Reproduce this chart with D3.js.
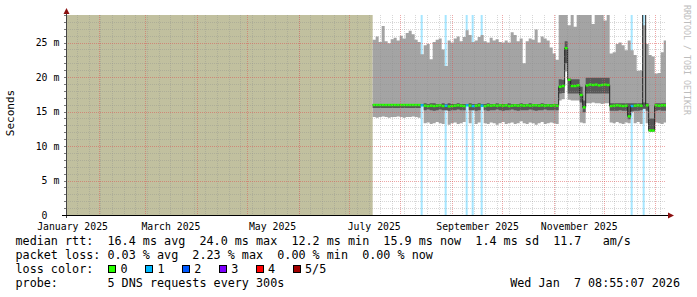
<!DOCTYPE html>
<html>
<head>
<meta charset="utf-8">
<script src="https://cdn.jsdelivr.net/npm/d3@7"></script>
<style>
body { margin: 0; background: #fff; }
text { font-family: "DejaVu Sans Mono", monospace; white-space: pre; }
</style>
</head>
<body>
<div id="chart"></div>
<script>
// smokeping rtt graph, last 360 days
// values are in ms, one sample every 43.2 h (3 px of the graph)

var endTime = new Date(2026, 0, 7, 8, 55, 7);
var spanDays = 360;
var noDataUntil = new Date(2025, 6, 15, 9, 0);
var stepHours = 43.2;

// top of the light smoke (slowest ping)
var smokeMax = [
  25.4, 25.9, 25.1, 27.4, 25.2, 24.9, 25.5, 25.7, 25.3, 26.0,
  25.6, 26.4, 26.7, 26.2, 25.4, 25.1, 23.3, 24.6, 24.8, 22.6,
  25.1, 25.4, 25.6, 24.0, 21.6, 25.3, 25.0, 25.6, 25.9, 25.2,
  25.8, 26.8, 26.1, 25.1, 25.3, 25.8, 26.1, 25.2, 25.0, 25.7,
  25.3, 25.5, 25.1, 25.0, 25.3, 25.0, 26.5, 26.1, 25.2, 25.6,
  22.0, 25.2, 25.6, 25.4, 26.9, 25.0, 25.9, 25.6, 25.3, 24.3,
  23.4, 22.5, 35, 35, 35, 27.5, 35, 27.3, 35, 35,
  35, 35, 35, 27.7, 35, 35, 35, 28.2, 35, 23.4,
  23.6, 24.8, 25.0, 24.6, 23.9, 25.3, 23.9, 23.2, 20.9, 21.0,
  27.5, 24.8, 23.2, 23.0, 20.5, 20.6, 23.6, 25.3
];
// top of the dark smoke
var smokeHigh = [
  16.1, 16.1, 16.1, 16.1, 16.1, 16.1, 16.1, 16.1, 16.1, 16.1,
  16.1, 16.1, 16.1, 16.1, 16.1, 16.1, 16.1, 16.2, 16.1, 16.2,
  16.2, 16.1, 16.1, 16.2, 16.1, 16.2, 16.1, 16.1, 16.2, 16.1,
  16.1, 16.1, 16.2, 16.1, 16.1, 16.2, 16.1, 16.1, 16.2, 16.1,
  16.1, 16.2, 16.1, 16.1, 16.1, 16.2, 16.1, 16.1, 16.1, 16.2,
  16.1, 16.1, 16.2, 16.1, 16.1, 16.1, 16.2, 16.1, 16.1, 16.1,
  16.1, 16.1, 19.7, 19.6, 25.2, 19.8, 19.7, 19.7, 19.7, 18.6,
  16.6, 19.9, 19.9, 19.9, 19.9, 19.9, 19.9, 19.9, 19.9, 16.2,
  16.2, 16.2, 16.2, 16.2, 16.2, 16.2, 16.2, 16.2, 16.2, 16.2,
  16.3, 16.2, 14.0, 14.0, 16.2, 16.2, 16.2, 16.2
];
var medianRtt = [
  15.95, 15.95, 15.95, 15.95, 15.95, 15.95, 15.95, 15.95, 15.95, 15.95,
  15.95, 15.95, 15.95, 15.95, 15.95, 15.95, 15.9, 15.85, 15.8, 15.85,
  15.8, 15.85, 15.9, 15.8, 15.85, 15.75, 15.8, 15.85, 15.9, 15.85,
  15.8, 15.9, 15.85, 15.8, 15.85, 15.9, 15.85, 15.8, 15.9, 15.85,
  15.9, 15.85, 15.9, 15.85, 15.9, 15.8, 15.85, 15.9, 15.85, 15.9,
  15.85, 15.9, 15.85, 15.9, 15.9, 15.85, 15.9, 15.85, 15.9, 15.85,
  15.9, 15.85, 18.6, 18.7, 24.2, 19.6, 18.7, 18.7, 18.8, 17.4,
  15.6, 18.8, 18.9, 18.85, 18.9, 18.8, 18.85, 18.9, 18.85, 15.8,
  15.85, 15.9, 15.85, 15.8, 15.85, 14.3, 15.8, 15.85, 15.9, 15.85,
  40, 15.9, 12.25, 12.25, 15.9, 15.85, 15.9, 15.9
];
// bottom of the dark smoke
var smokeLow = [
  15.5, 15.5, 15.5, 15.5, 15.5, 15.5, 15.5, 15.5, 15.5, 15.5,
  15.5, 15.5, 15.5, 15.5, 15.5, 15.5, 15.9, 15.2, 15.3, 15.2,
  15.1, 15.2, 15.3, 15.2, 15.2, 15.1, 15.2, 15.2, 15.3, 15.2,
  15.2, 15.9, 15.2, 15.2, 15.1, 15.2, 15.85, 15.2, 15.1, 15.2,
  15.2, 15.3, 15.2, 15.1, 15.2, 15.2, 15.3, 15.2, 15.1, 15.2,
  15.2, 15.2, 15.3, 15.2, 15.1, 15.2, 15.2, 15.3, 15.2, 15.2,
  15.2, 15.2, 17.6, 17.7, 22.0, 17.6, 17.6, 17.6, 17.6, 16.3,
  14.9, 17.6, 17.6, 17.6, 17.6, 17.6, 17.6, 17.6, 17.6, 15.1,
  15.1, 15.1, 15.2, 15.1, 15.1, 13.9, 15.0, 15.1, 15.1, 15.2,
  15.4, 15.1, 12.1, 12.1, 15.1, 15.2, 15.1, 15.1
];
// bottom of the light smoke (fastest ping)
var smokeMin = [
  14.2, 14.1, 14.2, 14.3, 14.2, 14.1, 14.2, 14.2, 14.3, 14.2,
  14.1, 14.2, 14.2, 14.3, 14.2, 14.1, 15.9, 13.3, 13.4, 13.2,
  13.3, 13.5, 13.3, 13.2, 15.2, 13.1, 13.3, 13.4, 13.2, 13.3,
  13.5, 15.9, 13.3, 15.2, 13.2, 13.4, 15.85, 13.3, 13.2, 13.4,
  13.3, 13.1, 13.3, 13.5, 13.2, 13.3, 13.4, 13.2, 13.3, 13.6,
  13.3, 13.2, 13.4, 13.3, 13.1, 13.3, 13.5, 13.2, 13.3, 13.4,
  13.3, 13.2, 16.6, 16.8, 20.8, 16.7, 16.6, 16.6, 16.6, 13.4,
  13.3, 16.2, 16.2, 16.3, 16.2, 16.2, 16.1, 16.2, 16.2, 13.4,
  13.3, 13.5, 13.3, 13.2, 13.4, 13.3, 15.0, 13.3, 13.5, 13.2,
  15.4, 13.3, 12.1, 12.1, 13.4, 13.3, 13.2, 13.4
];
// lost pings out of 5
var lossCount = [
  0, 0, 0, 0, 0, 0, 0, 0, 0, 0,
  0, 0, 0, 0, 0, 0, 1, 0, 0, 0,
  0, 0, 0, 0, 1, 0, 0, 0, 0, 0,
  0, 1, 0, 1, 0, 0, 1, 0, 0, 0,
  0, 0, 0, 0, 0, 0, 0, 0, 0, 0,
  0, 0, 0, 0, 0, 0, 0, 0, 0, 0,
  0, 0, 0, 0, 0, 0, 0, 0, 0, 0,
  0, 0, 0, 0, 0, 0, 0, 0, 0, 0,
  0, 0, 0, 0, 0, 0, 1, 0, 0, 0,
  1, 0, 0, 0, 0, 0, 0, 0
];

var yTicks = [0, 5, 10, 15, 20, 25];
var lossLabels = ["0", "1", "2", "3", "4", "5/5"];
var lossColors = ["#26ff00", "#00b8ff", "#0059ff", "#7e00ff", "#ff0000", "#a10000"];
var legendLines = [
  "median rtt:  16.4 ms avg  24.0 ms max  12.2 ms min  15.9 ms now  1.4 ms sd  11.7   am/s",
  "packet loss: 0.03 % avg  2.23 % max  0.00 % min  0.00 % now"
];
var probeLine = "probe:       5 DNS requests every 300s";
var stampLine = "Wed Jan  7 08:55:07 2026";

// layout (plotTop, not top: window.top is read only)
var width = 697, height = 297;
var plotLeft = 66, plotRight = 666, plotTop = 15, plotBottom = 215;

var startTime = d3.timeDay.offset(endTime, -spanDays);
var x = d3.scaleTime().domain([startTime, endTime]).range([plotLeft, plotRight]);
var y = d3.scaleLinear().domain([0, 29]).range([plotBottom, plotTop]);

var stepMs = stepHours * 3600 * 1000;
var samples = medianRtt.map(function(m, i) {
    return {
        t0: new Date(+noDataUntil + i * stepMs),
        t1: new Date(+noDataUntil + (i + 1) * stepMs),
        min: smokeMin[i], low: smokeLow[i], med: m,
        high: smokeHigh[i], max: smokeMax[i], loss: lossCount[i]
    };
});
// extra point so the last step gets its width
var last = samples[samples.length - 1];
var stepData = samples.concat([Object.assign({}, last, {t0: last.t1})]);

var svg = d3.select("#chart").append("svg")
    .attr("width", width)
    .attr("height", height);

svg.append("rect").attr("width", width).attr("height", height).attr("fill", "#fff");

svg.append("clipPath").attr("id", "plot")
    .append("rect")
    .attr("x", plotLeft).attr("y", plotTop)
    .attr("width", plotRight - plotLeft).attr("height", plotBottom - plotTop);

var plot = svg.append("g").attr("clip-path", "url(#plot)");

// no data yet
plot.append("rect")
    .attr("x", x(startTime)).attr("y", plotTop)
    .attr("width", x(noDataUntil) - x(startTime))
    .attr("height", plotBottom - plotTop)
    .attr("fill", "#c1c09f");

// loss bars
plot.selectAll(".lossbar")
    .data(samples.filter(function(d) { return d.loss > 0; }))
    .enter().append("rect")
    .attr("class", "lossbar")
    .attr("x", function(d) { return x(d.t0); })
    .attr("y", plotTop)
    .attr("width", function(d) { return x(d.t1) - x(d.t0) - 1; })
    .attr("height", plotBottom - plotTop)
    .attr("fill", function(d) { return lossColors[d.loss]; })
    .attr("fill-opacity", 0.35);

// smoke
var lightSmoke = d3.area().curve(d3.curveStepAfter)
    .x(function(d) { return x(d.t0); })
    .y0(function(d) { return y(d.min); })
    .y1(function(d) { return y(d.max); });
var darkSmoke = d3.area().curve(d3.curveStepAfter)
    .x(function(d) { return x(d.t0); })
    .y0(function(d) { return y(d.low); })
    .y1(function(d) { return y(d.high); });

plot.append("path").attr("d", lightSmoke(stepData)).attr("fill", "#a4a4a4");
plot.append("path").attr("d", darkSmoke(stepData)).attr("fill", "#585858");

// median
var medianLine = d3.line().curve(d3.curveStepAfter)
    .x(function(d) { return x(d.t0); })
    .y(function(d) { return y(d.med); });

plot.append("path")
    .attr("d", medianLine(stepData))
    .attr("fill", "none")
    .attr("stroke", "#202020")
    .attr("stroke-width", 1);

plot.selectAll(".med")
    .data(samples)
    .enter().append("rect")
    .attr("class", "med")
    .attr("x", function(d) { return x(d.t0); })
    .attr("y", function(d) { return y(d.med) - 1.2; })
    .attr("width", function(d) { return x(d.t1) - x(d.t0); })
    .attr("height", 2.4)
    .attr("fill", function(d) { return lossColors[d.loss]; });

// grid
var grid = svg.append("g")
    .attr("stroke-dasharray", "1,1")
    .attr("shape-rendering", "crispEdges");

var minorY = d3.range(1, 29).filter(function(v) { return v % 5 != 0; });
grid.selectAll(".gy")
    .data(minorY)
    .enter().append("line")
    .attr("x1", plotLeft).attr("x2", plotRight)
    .attr("y1", function(d) { return Math.round(y(d)) + 0.5; })
    .attr("y2", function(d) { return Math.round(y(d)) + 0.5; })
    .attr("stroke", "rgba(140,140,140,0.35)");

grid.selectAll(".gx")
    .data(d3.timeSunday.range(startTime, endTime))
    .enter().append("line")
    .attr("x1", function(d) { return Math.round(x(d)) + 0.5; })
    .attr("x2", function(d) { return Math.round(x(d)) + 0.5; })
    .attr("y1", plotTop).attr("y2", plotBottom)
    .attr("stroke", "rgba(140,140,140,0.35)");

grid.selectAll(".my")
    .data(yTicks.slice(1))
    .enter().append("line")
    .attr("x1", plotLeft).attr("x2", plotRight)
    .attr("y1", function(d) { return Math.round(y(d)) + 0.5; })
    .attr("y2", function(d) { return Math.round(y(d)) + 0.5; })
    .attr("stroke", "rgba(222,79,79,0.5)");

grid.selectAll(".mx")
    .data(d3.timeMonth.range(startTime, endTime))
    .enter().append("line")
    .attr("x1", function(d) { return Math.round(x(d)) + 0.5; })
    .attr("x2", function(d) { return Math.round(x(d)) + 0.5; })
    .attr("y1", plotTop).attr("y2", plotBottom)
    .attr("stroke", "rgba(222,79,79,0.5)");

// y axis ticks
svg.append("g").selectAll("line")
    .data(d3.range(0, 30))
    .enter().append("line")
    .attr("x1", plotLeft - 2).attr("x2", plotLeft)
    .attr("y1", function(d) { return Math.round(y(d)) + 0.5; })
    .attr("y2", function(d) { return Math.round(y(d)) + 0.5; })
    .attr("stroke", "#777")
    .attr("shape-rendering", "crispEdges");

// axis lines and arrows
svg.append("line")
    .attr("x1", plotLeft + 0.5).attr("x2", plotLeft + 0.5)
    .attr("y1", plotBottom + 3).attr("y2", plotTop - 3)
    .attr("stroke", "#444").attr("shape-rendering", "crispEdges");
svg.append("line")
    .attr("x1", plotLeft - 4).attr("x2", plotRight + 3)
    .attr("y1", plotBottom + 0.5).attr("y2", plotBottom + 0.5)
    .attr("stroke", "#000").attr("shape-rendering", "crispEdges");
svg.append("path")
    .attr("d", "M" + (plotRight + 2) + "," + (plotBottom - 2.5) + "L" + (plotRight + 8) + "," + (plotBottom + 0.5) + "L" + (plotRight + 2) + "," + (plotBottom + 3.5) + "Z")
    .attr("fill", "#8b1010");
svg.append("path")
    .attr("d", "M" + (plotLeft - 2.5) + "," + (plotTop - 1) + "L" + (plotLeft + 0.5) + "," + (plotTop - 7) + "L" + (plotLeft + 3.5) + "," + (plotTop - 1) + "Z")
    .attr("fill", "#8b1010");

// axis labels, month names sit in the middle of their month
var monthFmt = d3.timeFormat("%B %Y");
var labelMonths = d3.timeMonth.every(2).range(d3.timeMonth.floor(startTime), endTime);
var labelTimes = labelMonths
    .map(function(m) { return d3.timeDay.offset(m, 15); })
    .filter(function(t) { return t >= startTime && t <= endTime; });

var xAxis = d3.axisBottom(x)
    .tickValues(labelTimes)
    .tickSize(0)
    .tickPadding(8)
    .tickFormat(function(d) { return monthFmt(d); });

var gx = svg.append("g")
    .attr("transform", "translate(0," + plotBottom + ")")
    .call(xAxis);
gx.select(".domain").remove();
gx.selectAll("text")
    .attr("font-family", "DejaVu Sans Mono")
    .attr("font-size", "9.8px")
    .attr("fill", "#000");

var yAxis = d3.axisLeft(y)
    .tickValues(yTicks)
    .tickSize(0)
    .tickPadding(6.7)
    .tickFormat(function(d) { return d == 0 ? " 0  " : d + " m"; });

var gy = svg.append("g")
    .attr("transform", "translate(" + plotLeft + ",0)")
    .call(yAxis);
gy.select(".domain").remove();
gy.selectAll("text")
    .attr("font-family", "DejaVu Sans Mono")
    .attr("font-size", "9.8px")
    .attr("fill", "#000");

svg.append("text")
    .attr("transform", "translate(14,113) rotate(-90)")
    .attr("text-anchor", "middle")
    .attr("font-size", "11px")
    .text("Seconds");

svg.append("text")
    .attr("transform", "translate(684,60) rotate(90)")
    .attr("text-anchor", "middle")
    .attr("font-size", "8.3px")
    .attr("fill", "#bdbdbd")
    .text("RRDTOOL / TOBI OETIKER");

// legend
var legend = svg.append("g").attr("font-size", "11.75px").attr("fill", "#000");

legend.selectAll(".row")
    .data(legendLines)
    .enter().append("text")
    .attr("x", 15.5)
    .attr("y", function(d, i) { return 245 + i * 14; })
    .text(function(d) { return d; });

legend.append("text").attr("x", 15.5).attr("y", 273).text("loss color:");

var keys = legend.selectAll(".key")
    .data(lossLabels)
    .enter().append("g")
    .attr("transform", function(d, i) { return "translate(" + (108.5 + i * 36.9) + ",265)"; });
keys.append("rect")
    .attr("width", 7).attr("height", 7)
    .attr("fill", function(d, i) { return lossColors[i]; })
    .attr("stroke", "#000")
    .attr("shape-rendering", "crispEdges");
keys.append("text")
    .attr("x", 12).attr("y", 8)
    .text(function(d) { return d; });

legend.append("text").attr("x", 15.5).attr("y", 287).text(probeLine);
legend.append("text").attr("x", 680).attr("y", 287).attr("text-anchor", "end").text(stampLine);
</script>
</body>
</html>
